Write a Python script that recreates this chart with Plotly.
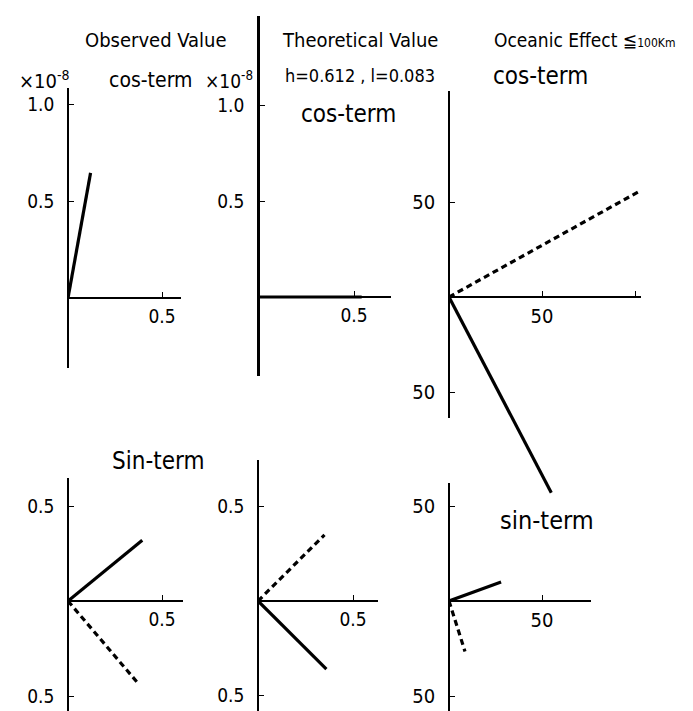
import plotly.graph_objects as go

W, H = 693, 711

# ---------------- data (vector end points, origin at 0,0) ----------------
# Observed value, cos-term (x 1e-8)
obs_cos_solid_x = [0.12]
obs_cos_solid_y = [0.645]
# Theoretical value, cos-term
theo_cos_solid_x = [0.0, 0.54]
theo_cos_solid_y = [1.36, 0.0]
# Oceanic effect, cos-term
ocean_cos_dashed_x = [103.0]
ocean_cos_dashed_y = [56.0]
ocean_cos_solid_x = [55.0]
ocean_cos_solid_y = [-103.0]
# Observed value, sin-term
obs_sin_solid_x = [0.395]
obs_sin_solid_y = [0.32]
obs_sin_dashed_x = [0.37]
obs_sin_dashed_y = [-0.43]
# Theoretical value, sin-term
theo_sin_dashed_x = [0.35]
theo_sin_dashed_y = [0.35]
theo_sin_solid_x = [0.36]
theo_sin_solid_y = [-0.36]
# Oceanic effect, sin-term
ocean_sin_solid_x = [28.0]
ocean_sin_solid_y = [10.0]
ocean_sin_dashed_x = [8.6]
ocean_sin_dashed_y = [-26.6]

# tick values / labels
obs_cos_xticks = [0.5]; obs_cos_xlabels = ["0.5"]
obs_cos_yticks = [0.5, 1.0]; obs_cos_ylabels = ["0.5", "1.0"]
theo_cos_xticks = [0.5]; theo_cos_xlabels = ["0.5"]
theo_cos_yticks = [0.5, 1.0]; theo_cos_ylabels = ["0.5", "1.0"]
ocean_cos_xticks = [50, 100]; ocean_cos_xlabels = ["50", ""]
ocean_cos_yticks = [50, -50]; ocean_cos_ylabels = ["50", "50"]
obs_sin_xticks = [0.5]; obs_sin_xlabels = ["0.5"]
obs_sin_yticks = [0.5, -0.5]; obs_sin_ylabels = ["0.5", "0.5"]
theo_sin_xticks = [0.5]; theo_sin_xlabels = ["0.5"]
theo_sin_yticks = [0.5, -0.5]; theo_sin_ylabels = ["0.5", "0.5"]
ocean_sin_xticks = [50]; ocean_sin_xlabels = ["50"]
ocean_sin_yticks = [50, -50]; ocean_sin_ylabels = ["50", "50"]

FONT = "DejaVu Sans Condensed, Liberation Sans Narrow, DejaVu Sans, sans-serif"

# panel geometry in pixels: origin x, origin y, x-axis right end, y-axis top, y-axis bottom, px/unit x, px/unit y
panels = [
    dict(ox=60, oy=290, xr=173, yt=80, yb=360, sx=188, sy=194, fs=19,
         xt=obs_cos_xticks, xl=obs_cos_xlabels, yt_=obs_cos_yticks, yl=obs_cos_ylabels, yw=1.6,
         solid=(obs_cos_solid_x, obs_cos_solid_y), dashed=None),
    dict(ox=250, oy=289, xr=383, yt=8, yb=368, sx=192, sy=192, fs=19,
         xt=theo_cos_xticks, xl=theo_cos_xlabels, yt_=theo_cos_yticks, yl=theo_cos_ylabels, yw=2.6,
         solid=(theo_cos_solid_x, theo_cos_solid_y), dashed=None),
    dict(ox=441, oy=289, xr=633, yt=83, yb=410, sx=1.86, sy=1.9, fs=20, mark_yb=500, mark_xr=660,
         xt=ocean_cos_xticks, xl=ocean_cos_xlabels, yt_=ocean_cos_yticks, yl=ocean_cos_ylabels, yw=1.6,
         solid=(ocean_cos_solid_x, ocean_cos_solid_y), dashed=(ocean_cos_dashed_x, ocean_cos_dashed_y)),
    dict(ox=60, oy=593, xr=175, yt=470, yb=708, sx=188, sy=190, fs=19,
         xt=obs_sin_xticks, xl=obs_sin_xlabels, yt_=obs_sin_yticks, yl=obs_sin_ylabels, yw=1.6,
         solid=(obs_sin_solid_x, obs_sin_solid_y), dashed=(obs_sin_dashed_x, obs_sin_dashed_y)),
    dict(ox=250, oy=593, xr=370, yt=452, yb=705, sx=190, sy=189, fs=19,
         xt=theo_sin_xticks, xl=theo_sin_xlabels, yt_=theo_sin_yticks, yl=theo_sin_ylabels, yw=1.6,
         solid=(theo_sin_solid_x, theo_sin_solid_y), dashed=(theo_sin_dashed_x, theo_sin_dashed_y)),
    dict(ox=441, oy=593, xr=583, yt=475, yb=705, sx=1.86, sy=1.9, fs=20,
         xt=ocean_sin_xticks, xl=ocean_sin_xlabels, yt_=ocean_sin_yticks, yl=ocean_sin_ylabels, yw=1.6,
         solid=(ocean_sin_solid_x, ocean_sin_solid_y), dashed=(ocean_sin_dashed_x, ocean_sin_dashed_y)),
]

fig = go.Figure()
layout = {}
n_extra = len(panels)

for i, p in enumerate(panels, start=1):
    sfx = "" if i == 1 else str(i)
    xa, ya = "x" + sfx, "y" + sfx
    xdom = [p["ox"] / W, p["xr"] / W]
    ydom = [1 - p["yb"] / H, 1 - p["yt"] / H]
    xrng = [0, (p["xr"] - p["ox"]) / p["sx"]]
    yrng = [-(p["yb"] - p["oy"]) / p["sy"], (p["oy"] - p["yt"]) / p["sy"]]
    tf = dict(family=FONT, size=p["fs"], color="black")
    layout["xaxis" + sfx] = dict(
        domain=xdom, range=xrng, anchor="free", position=1 - p["oy"] / H,
        showline=True, linecolor="black", linewidth=1.6, showgrid=False, zeroline=False,
        ticks="inside", ticklen=5, tickwidth=1.3, tickcolor="black",
        tickvals=p["xt"], ticktext=p["xl"], ticklabelstandoff=1,
        tickfont=tf, fixedrange=True,
    )
    layout["yaxis" + sfx] = dict(
        domain=ydom, range=yrng, anchor="free", position=p["ox"] / W,
        showline=True, linecolor="black", linewidth=p["yw"], showgrid=False, zeroline=False,
        ticks="inside", ticklen=5, tickwidth=1.3, tickcolor="black",
        tickvals=p["yt_"], ticktext=p["yl"], ticklabelstandoff=9,
        tickfont=tf, fixedrange=True,
    )
    # a transparent origin point keeps the drawn axes of this panel alive
    fig.add_trace(go.Scatter(x=[0], y=[0], xaxis=xa, yaxis=ya, mode="markers",
                             marker=dict(size=1, opacity=0), showlegend=False,
                             hoverinfo="skip"))
    # vectors that reach beyond the drawn axes get an invisible axis pair with the same scale
    if "mark_yb" in p:
        n_extra += 1
        msfx = str(n_extra)
        myb, mxr = p["mark_yb"], p["mark_xr"]
        layout["xaxis" + msfx] = dict(
            domain=[p["ox"] / W, mxr / W], range=[0, (mxr - p["ox"]) / p["sx"]],
            anchor="y" + msfx, visible=False, fixedrange=True)
        layout["yaxis" + msfx] = dict(
            domain=[1 - myb / H, 1 - p["yt"] / H],
            range=[-(myb - p["oy"]) / p["sy"], (p["oy"] - p["yt"]) / p["sy"]],
            anchor="x" + msfx, visible=False, fixedrange=True)
        xa, ya = "x" + msfx, "y" + msfx
    sx_, sy_ = p["solid"]
    for ex, ey in zip(sx_, sy_):
        fig.add_trace(go.Scatter(x=[0, ex], y=[0, ey], xaxis=xa, yaxis=ya, mode="lines",
                                 line=dict(color="black", width=3.2), showlegend=False,
                                 hoverinfo="skip"))
    if p["dashed"]:
        dx_, dy_ = p["dashed"]
        for ex, ey in zip(dx_, dy_):
            fig.add_trace(go.Scatter(x=[0, ex], y=[0, ey], xaxis=xa, yaxis=ya, mode="lines",
                                     line=dict(color="black", width=3.2, dash="6px,4px"),
                                     showlegend=False, hoverinfo="skip"))


def ann(text, x, y, size, xanchor="center"):
    return dict(text=text, x=x / W, y=1 - y / H, xref="paper", yref="paper",
                showarrow=False, xanchor=xanchor, yanchor="middle",
                font=dict(family=FONT, size=size, color="black"))


annotations = [
    ann("Observed Value", 148, 32, 20),
    ann("×10<sup>-8</sup>", 36, 72, 20),
    ann("cos-term", 142, 72, 21),
    ann("×10<sup>-8</sup>", 221, 72, 19),
    ann("Theoretical Value", 352, 32, 20),
    ann("h=0.612 , l=0.083", 352, 68, 18),
    ann("cos-term", 340, 106, 24),
    ann("Oceanic Effect ≦<span style='font-size:12px'>100Km</span>", 576, 32, 19),
    ann("cos-term", 532, 68, 24),
    ann("Sin-term", 150, 453, 24),
    ann("sin-term", 539, 512, 25),
]

fig.update_layout(
    width=W, height=H, margin=dict(l=0, r=0, t=0, b=0),
    paper_bgcolor="white", plot_bgcolor="rgba(0,0,0,0)",
    annotations=annotations, **layout,
)

fig.write_html("out.html", config={"displayModeBar": False})
